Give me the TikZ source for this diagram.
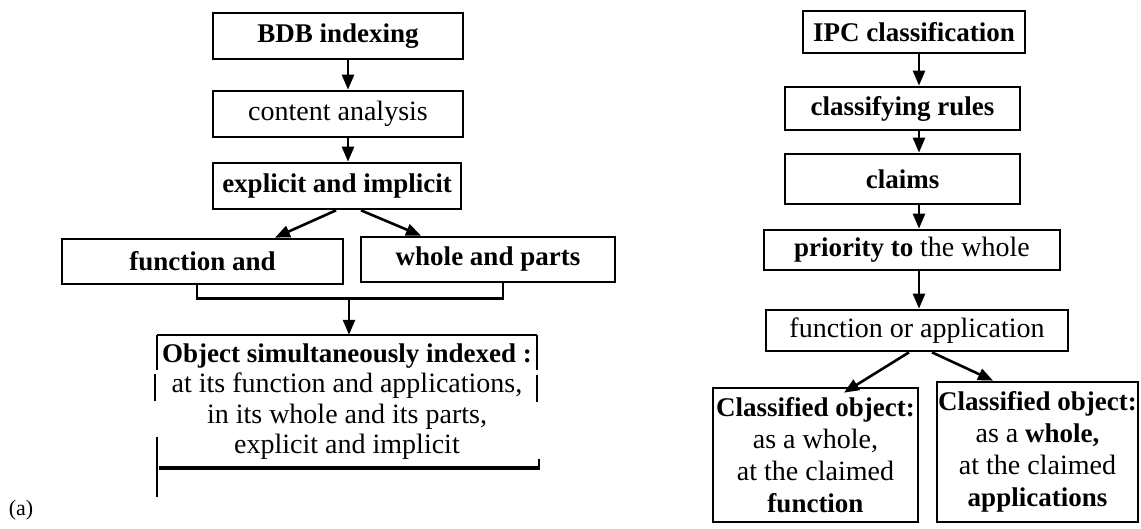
\documentclass[tikz,border=0pt]{standalone}
\usepackage{fontspec}
\setmainfont{Liberation Serif}
\usetikzlibrary{arrows.meta}
\newcommand{\rg}[1]{{\fontsize{28}{31}\selectfont #1}}
\tikzset{
  box/.style={draw, line width=2.7pt, inner sep=0pt, align=center, font=\fontsize{27}{31}\selectfont},
  txt/.style={inner sep=0pt, align=center, font=\fontsize{27}{30.5}\selectfont},
  arr/.style={line width=2.6pt, -{Triangle[length=15pt,width=12pt]}},
  ln/.style={line width=2.7pt},
}
\begin{document}
\begin{tikzpicture}[x=1pt,y=-1pt]
\useasboundingbox (0,0) rectangle (1141,529);
% ---------- left diagram ----------
\node[box, minimum width=250, minimum height=46] (bdb) at (338,36) {\textbf{BDB indexing}};
\node[box, minimum width=250, minimum height=46] (content) at (338,114) {\rg{content analysis}};
\node[box, minimum width=248, minimum height=46] (explicit) at (337,186) {\textbf{explicit and implicit}};
\node[box, minimum width=281, minimum height=45] (func) at (202.5,261.5) {\textbf{function and}};
\node[box, minimum width=254, minimum height=45] (whole) at (488,259.5) {\textbf{whole and parts}};
\node[txt, minimum width=380, minimum height=133] (obj) at (347,401.5)
  {\textbf{Object simultaneously indexed :}\\\rg{at its function and applications,}\\\rg{in its whole and its parts,}\\\rg{explicit and implicit}};
\node[inner sep=0pt, font=\fontsize{22}{26}\selectfont] (lab) at (21,510) {(a)};

\coordinate (ax) at (348,0);
\coordinate (b1) at (197,0);
\coordinate (b2) at (503,0);
\coordinate (d1) at (336,0);
\coordinate (d2) at (275,0);
\coordinate (d3) at (361,0);
\coordinate (d4) at (421,0);
\coordinate (ox) at (349,0);

\draw[arr] (bdb.south -| ax) -- (content.north -| ax);
\draw[arr] (content.south -| ax) -- (explicit.north -| ax);
\draw[arr] (explicit.south -| d1) -- (func.north -| d2);
\draw[arr] (explicit.south -| d3) -- (whole.north -| d4);
\draw[ln] (func.south -| b1) -- ++(0,13) coordinate (jn) -| (whole.south -| b2);
\draw[arr] (jn -| ox) -- (obj.north -| ox);

% broken outline of the object box
\draw[ln] (157,335) -- (537,335);
\draw[ln] (157,335) -- (157,370);
\draw[ln] (155,374) -- (155,401);
\draw[ln] (157,437) -- (157,497);
\draw[ln] (537,335) -- (537,370);
\draw[ln] (537,375) -- (537,402);
\draw[ln] (539,459) -- (539,470);
\draw[line width=3.8pt] (159,468) -- (539,468);

% ---------- right diagram ----------
\node[box, minimum width=222, minimum height=42] (ipc) at (914,32) {\textbf{IPC classification}};
\node[box, minimum width=235, minimum height=43] (rules) at (902.5,108.5) {\textbf{classifying rules}};
\node[box, minimum width=235, minimum height=50] (claims) at (902.5,179) {\textbf{claims}};
\node[box, minimum width=296, minimum height=40] (prio) at (912,250) {\textbf{priority to} \rg{the whole}};
\node[box, minimum width=302, minimum height=41] (fapp) at (917,330.5) {\rg{function or application}};
\node[box, minimum width=205, minimum height=134, font=\fontsize{27}{32}\selectfont] (cl1) at (815.5,455)
  {\textbf{Classified object:}\\\rg{as a whole,}\\\rg{at the claimed}\\\textbf{function}};
\node[box, minimum width=201, minimum height=140, font=\fontsize{27}{32}\selectfont] (cl2) at (1037.5,452)
  {\textbf{Classified object:}\\\rg{as a} \textbf{whole,}\\\rg{at the claimed}\\\textbf{applications}};

\coordinate (rx) at (919,0);
\coordinate (e1) at (909,0);
\coordinate (e2) at (844,0);
\coordinate (e3) at (932,0);
\coordinate (e4) at (993,0);

\draw[arr] (ipc.south -| rx) -- (rules.north -| rx);
\draw[arr] (rules.south -| rx) -- (claims.north -| rx);
\draw[arr] (claims.south -| rx) -- (prio.north -| rx);
\draw[arr] (prio.south -| rx) -- (fapp.north -| rx);
\draw[arr] (fapp.south -| e1) -- ([yshift=-6pt]cl1.north -| e2);
\draw[arr] (fapp.south -| e3) -- (cl2.north -| e4);
\end{tikzpicture}
\end{document}
